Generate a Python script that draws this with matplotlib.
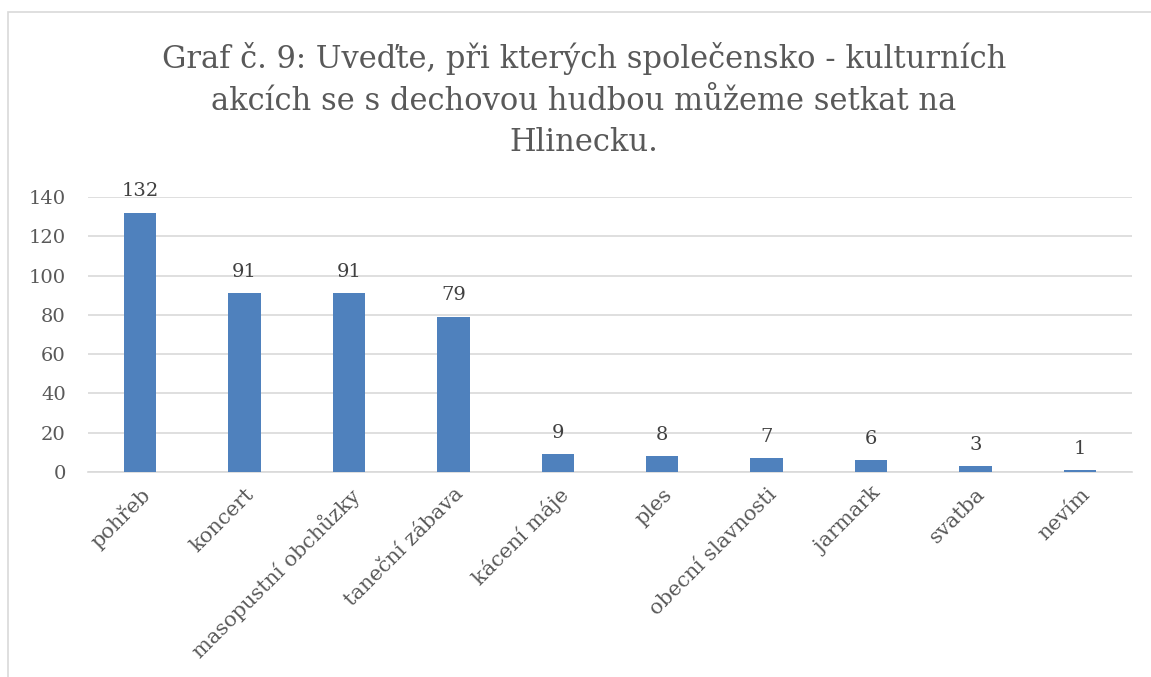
import matplotlib
matplotlib.use("Agg")
import matplotlib.pyplot as plt
from matplotlib.patches import Rectangle

categories = ["pohřeb", "koncert", "masopustní obchůzky", "taneční zábava",
              "kácení máje", "ples", "obecní slavnosti", "jarmark", "svatba", "nevím"]
values = [132, 91, 91, 79, 9, 8, 7, 6, 3, 1]
yticks = [0, 20, 40, 60, 80, 100, 120, 140]
title = "Graf č. 9: Uveďte, při kterých společensko - kulturních\nakcích se s dechovou hudbou můžeme setkat na\nHlinecku."

W, H = 1151, 677
fig = plt.figure(figsize=(W / 100, H / 100), dpi=100)
font = "DejaVu Serif"
txt = "#595959"

fig.patches.append(Rectangle((8 / W, -0.05), 1.1, 1 - 12 / H + 0.05, transform=fig.transFigure,
                             fill=False, edgecolor="#D9D9D9", linewidth=1.2))

ax = fig.add_axes([88 / W, 1 - 472 / H, (1132 - 88) / W, (472 - 197) / H])
x = list(range(len(categories)))
ax.bar(x, values, width=0.31, color="#4F81BD", zorder=3)
ax.set_xlim(-0.5, len(categories) - 0.5)
ax.set_ylim(0, 140)
ax.set_yticks(yticks)
ax.set_yticklabels([str(v) for v in yticks], fontfamily=font, fontsize=14, color=txt)
ax.yaxis.grid(True, color="#D9D9D9", linewidth=1.2, zorder=0)
ax.tick_params(axis="both", length=0)
ax.tick_params(axis="y", pad=16)
for s in ["top", "right", "left"]:
    ax.spines[s].set_visible(False)
ax.spines["bottom"].set_color("#D9D9D9")
ax.spines["bottom"].set_linewidth(1.2)
ax.set_xticks(x)
ax.set_xticklabels(categories, rotation=45, ha="right", rotation_mode="anchor",
                   fontfamily=font, fontsize=15, color=txt)
ax.tick_params(axis="x", pad=9)
for xi, v in zip(x, values):
    ax.annotate(str(v), (xi, v), xytext=(0, 9), textcoords="offset points",
                ha="center", va="bottom", fontfamily=font, fontsize=14, color="#404040")

fig.text(584 / W, 1 - 100 / H, title, ha="center", va="center", fontfamily=font,
         fontsize=22, color=txt, linespacing=1.45)

fig.savefig("out.png", dpi=100)
